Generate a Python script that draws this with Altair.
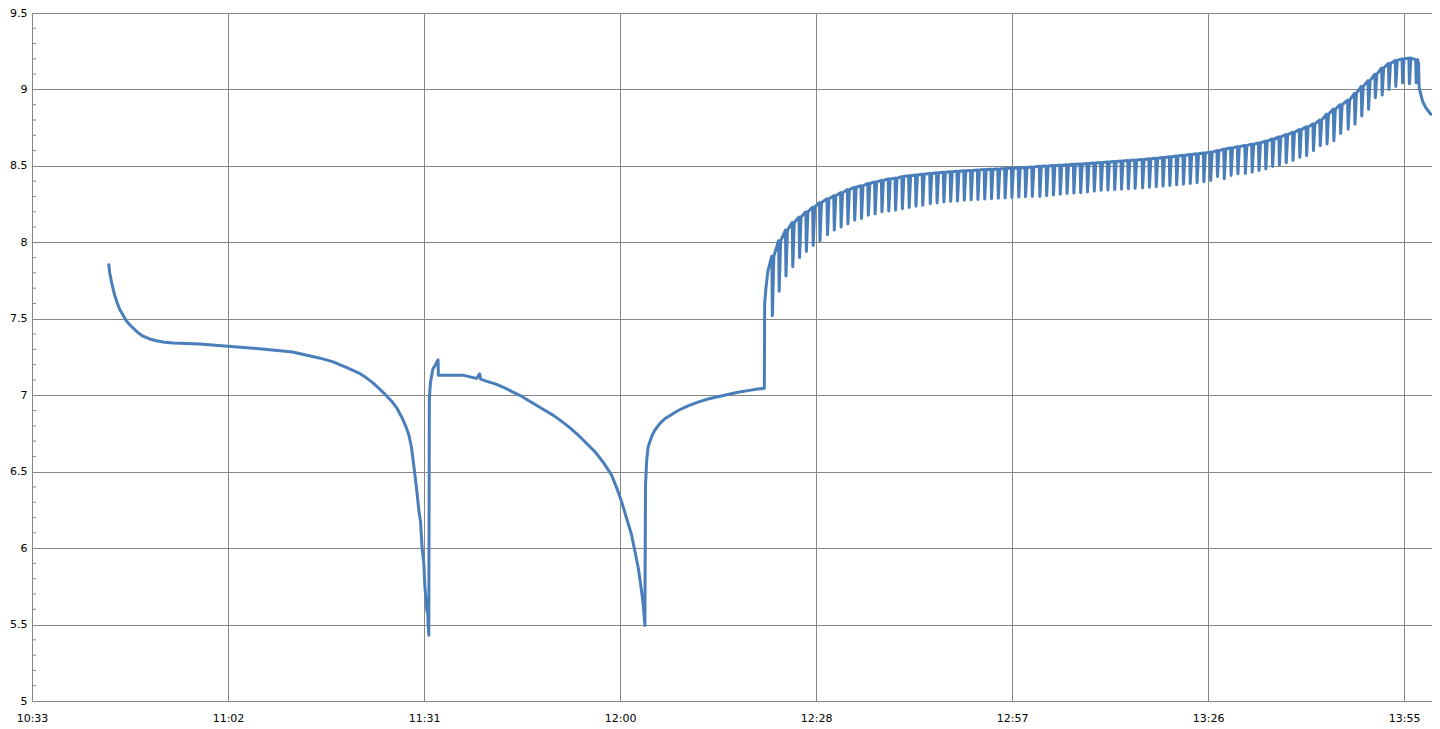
import json
import altair as alt
import pandas as pd

LINE_COLOR = "#4a7ebb"
GRID_COLOR = "#868686"

# x values are minutes after midnight
X_TICKS = [633.6, 662.4, 691.2, 720.0, 748.8, 777.6, 806.4, 835.2]
X_LABELS = ["10:33", "11:02", "11:31", "12:00", "12:28", "12:57", "13:26", "13:55"]
Y_TICKS = [5, 5.5, 6, 6.5, 7, 7.5, 8, 8.5, 9, 9.5]
Y_MINOR = [5.1, 5.2, 5.3, 5.4, 5.6, 5.7, 5.8, 5.9, 6.1, 6.2, 6.3, 6.4,
           6.6, 6.7, 6.8, 6.9, 7.1, 7.2, 7.3, 7.4, 7.6, 7.7, 7.8, 7.9,
           8.1, 8.2, 8.3, 8.4, 8.6, 8.7, 8.8, 8.9, 9.1, 9.2, 9.3, 9.4]

# First part of the trace (before the periodic section)
TRACE_T = [644.88, 645.03, 645.28, 645.51, 645.76, 646.10, 646.49, 646.97, 647.47, 647.96,
           648.44, 649.17, 649.90, 650.89, 651.87, 653.08, 654.30, 658.21, 662.41, 667.00,
           671.88, 675.79, 677.74, 679.70, 681.65, 682.63, 683.60, 684.58, 685.56, 686.53,
           687.26, 687.51, 687.99, 688.49, 688.97, 689.37, 689.71, 689.96, 690.19, 690.44,
           690.69, 690.92, 691.17, 691.32, 691.51, 691.65, 691.72, 691.80, 691.90,
           691.98, 692.15, 692.49, 692.88, 693.26, 693.31, 697.03, 698.93, 699.37, 699.52,
           700.44, 701.67, 702.89, 704.11, 705.34, 706.55, 707.77, 709.00, 710.21, 711.43,
           712.66, 713.88, 715.09, 716.32, 717.54, 718.75, 719.49, 720.22, 720.95, 721.68,
           722.18, 722.67, 723.06, 723.40, 723.65,
           723.74, 723.88, 723.94, 724.13, 724.38, 724.72, 725.11, 725.84, 726.58, 727.54,
           728.53, 729.99, 731.46, 732.92, 734.39, 735.85, 737.32, 738.78, 740.24, 741.20,
           741.25, 741.46, 741.71]
TRACE_V = [7.854, 7.80, 7.742, 7.697, 7.652, 7.606, 7.561, 7.525, 7.486, 7.461,
           7.44, 7.41, 7.386, 7.368, 7.356, 7.347, 7.341, 7.335, 7.32, 7.304,
           7.283, 7.244, 7.22, 7.183, 7.145, 7.117, 7.084, 7.045, 7.002, 6.957,
           6.912, 6.89, 6.851, 6.80, 6.74, 6.655, 6.534, 6.443, 6.353, 6.247,
           6.17, 6.0, 5.90, 5.749, 5.65, 5.58, 5.62, 5.50, 5.43,
           6.98, 7.084, 7.17, 7.20, 7.232, 7.13, 7.13, 7.11, 7.14, 7.105,
           7.091, 7.074, 7.052, 7.024, 6.998, 6.965, 6.933, 6.90, 6.868, 6.829,
           6.786, 6.738, 6.684, 6.63, 6.561, 6.478, 6.396, 6.305, 6.197, 6.089,
           5.981, 5.872, 5.753, 5.634, 5.494,
           6.414, 6.543, 6.587, 6.662, 6.695, 6.738, 6.771, 6.814, 6.846, 6.872,
           6.90, 6.93, 6.955, 6.975, 6.99, 7.005, 7.02, 7.03, 7.04, 7.045,
           7.60, 7.71, 7.81]

# Periodic section: time of each dip, level before it and the dip minimum
TOOTH_T = [742.3, 743.3, 744.3, 745.3, 746.3, 747.3, 748.3, 749.3, 750.4, 751.4,
           752.4, 753.4, 754.4, 755.4, 756.4, 757.4, 758.4, 759.4, 760.4, 761.4,
           762.4, 763.4, 764.4, 765.5, 766.5, 767.5, 768.5, 769.5, 770.5, 771.5,
           772.5, 773.5, 774.5, 775.5, 776.5, 777.5, 778.5, 779.5, 780.5, 781.6,
           782.6, 783.6, 784.6, 785.6, 786.6, 787.6, 788.6, 789.6, 790.6, 791.6,
           792.6, 793.6, 794.6, 795.6, 796.7, 797.7, 798.7, 799.7, 800.7, 801.7,
           802.7, 803.7, 804.7, 805.7, 806.7, 807.7, 808.7, 809.7, 810.7, 811.8,
           812.8, 813.8, 814.8, 815.8, 816.8, 817.8, 818.8, 819.8, 820.8, 821.8,
           822.8, 823.8, 824.8, 825.8, 826.9, 827.9, 828.9, 829.9, 830.9, 831.9,
           832.9, 833.9, 834.9, 835.9, 836.9]
TOOTH_TOP = [7.91, 8.01, 8.08, 8.13, 8.165, 8.20, 8.23, 8.26, 8.285, 8.305,
             8.325, 8.345, 8.36, 8.37, 8.385, 8.395, 8.405, 8.415, 8.42, 8.43,
             8.435, 8.44, 8.445, 8.45, 8.455, 8.458, 8.462, 8.465, 8.468, 8.47,
             8.473, 8.476, 8.478, 8.48, 8.483, 8.486, 8.488, 8.49, 8.493, 8.497,
             8.50, 8.502, 8.505, 8.508, 8.51, 8.513, 8.516, 8.519, 8.522, 8.525,
             8.529, 8.532, 8.535, 8.538, 8.542, 8.546, 8.55, 8.555, 8.56, 8.564,
             8.569, 8.574, 8.579, 8.584, 8.59, 8.60, 8.61, 8.618, 8.626, 8.634,
             8.642, 8.65, 8.662, 8.676, 8.69, 8.705, 8.72, 8.737, 8.755, 8.775,
             8.80, 8.838, 8.872, 8.90, 8.93, 8.975, 9.02, 9.058, 9.10, 9.14,
             9.17, 9.19, 9.20, 9.205, 9.195]
TOOTH_DIP = [7.52, 7.68, 7.78, 7.84, 7.90, 7.94, 7.98, 8.01, 8.05, 8.08,
             8.10, 8.12, 8.145, 8.156, 8.177, 8.185, 8.20, 8.205, 8.21, 8.22,
             8.228, 8.236, 8.242, 8.253, 8.258, 8.264, 8.268, 8.27, 8.275, 8.278,
             8.28, 8.283, 8.286, 8.288, 8.29, 8.293, 8.296, 8.298, 8.30, 8.30,
             8.305, 8.31, 8.315, 8.32, 8.322, 8.325, 8.33, 8.335, 8.34, 8.342,
             8.345, 8.348, 8.35, 8.353, 8.356, 8.36, 8.364, 8.368, 8.372, 8.376,
             8.38, 8.385, 8.39, 8.397, 8.405, 8.43, 8.416, 8.437, 8.448, 8.45,
             8.459, 8.47, 8.48, 8.496, 8.506, 8.52, 8.535, 8.556, 8.567, 8.60,
             8.632, 8.643, 8.664, 8.712, 8.74, 8.773, 8.827, 8.87, 8.946, 8.963,
             9.00, 9.02, 9.043, 9.037, 9.043]

# Final decline
TAIL_T = [837.32, 837.41, 837.91, 838.39, 839.13]
TAIL_V = [9.17, 9.01, 8.924, 8.88, 8.838]

rows = list(zip(TRACE_T, TRACE_V))
for t, top, dip in zip(TOOTH_T, TOOTH_TOP, TOOTH_DIP):
    rows.append((t, top))
    rows.append((t + 0.08, dip))
    rows.append((t + 0.3, top))
rows += list(zip(TAIL_T, TAIL_V))

df = pd.DataFrame(rows, columns=["t", "v"])
df["i"] = range(len(df))

x_scale = alt.Scale(domain=[633.6, 839.3], nice=False, zero=False)
y_scale = alt.Scale(domain=[5, 9.5], nice=False, zero=False)

label_expr = f"{json.dumps(X_LABELS)}[indexof({json.dumps(X_TICKS)}, datum.value)]"

y_axis = alt.Axis(values=Y_TICKS, format="~g", title=None, grid=True,
                  ticks=False, tickSize=0, labelPadding=5, labelOverlap=False)

line = alt.Chart(df).mark_line(
    color=LINE_COLOR, strokeWidth=3, strokeJoin="round", strokeCap="round", clip=True
).encode(
    x=alt.X("t:Q", scale=x_scale,
            axis=alt.Axis(values=X_TICKS, labelExpr=label_expr, title=None, grid=True,
                          ticks=False, tickSize=0, labelPadding=11, labelFlush=False,
                          labelOverlap=False)),
    y=alt.Y("v:Q", scale=y_scale, axis=y_axis),
    order="i:Q",
)

minor = alt.Chart(pd.DataFrame({"v": Y_MINOR})).mark_rule(
    color=GRID_COLOR, strokeWidth=1
).encode(
    y=alt.Y("v:Q", scale=y_scale, axis=y_axis),
    x=alt.value(0),
    x2=alt.value(4),
)

chart = alt.layer(minor, line).properties(
    width=1400,
    height=688,
    padding={"left": 24, "top": 5, "right": 0, "bottom": 30},
    autosize=alt.AutoSizeParams(type="none"),
).configure_view(
    strokeWidth=0
).configure_axis(
    gridColor=GRID_COLOR, gridWidth=1, gridOpacity=1,
    domainColor=GRID_COLOR, domainWidth=1,
    labelFont="DejaVu Sans", labelFontSize=11, labelColor="#000000",
)

chart.save("out.html", embed_options={"renderer": "svg", "actions": False})
